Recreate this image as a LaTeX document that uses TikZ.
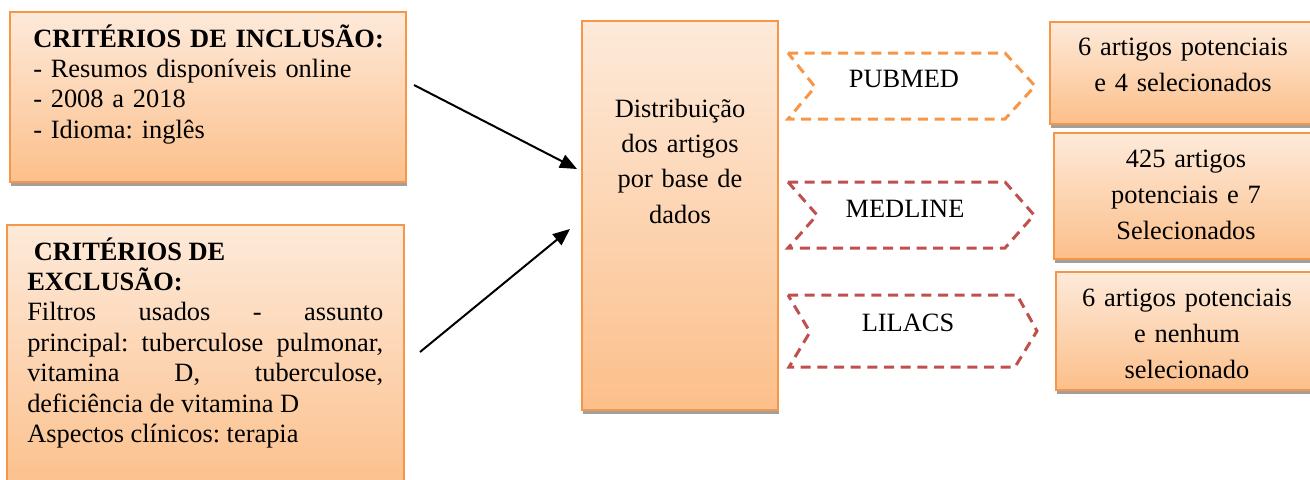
\documentclass[tikz,border=0pt]{standalone}
\usepackage{fontspec}
\setmainfont{Liberation Serif}
\usetikzlibrary{arrows.meta}
\usetikzlibrary{shadows}
\usetikzlibrary{fit}

\definecolor{boxline}{RGB}{247,150,70}
\definecolor{boxtop}{RGB}{253,234,218}
\definecolor{boxbot}{RGB}{252,191,138}
\definecolor{shadowgray}{RGB}{160,160,160}
\definecolor{dbred}{RGB}{192,80,77}

\tikzset{
	box/.style={draw=boxline, line width=1.5pt, top color=boxtop, bottom color=boxbot, inner sep=0pt,
		drop shadow={shadow xshift=0.75pt, shadow yshift=-3pt, fill=shadowgray, opacity=1}},
	txt/.style={inner sep=0pt, font=\fontsize{19.8pt}{22.8pt}\selectfont},
	chevron/.style={dash pattern=on 7.5pt off 5pt, line width=2.25pt, line join=miter},
	arr/.style={line width=1.5pt, -{Triangle[length=12.75pt, width=10.5pt]}}
}
\frenchspacing

\begin{document}
\begin{tikzpicture}[x=0.75pt, y=-0.75pt]
	\useasboundingbox (0,0) rectangle (1310,479);
	\clip (0,0) rectangle (1310,479);
	
	% caixas
	\node[box, fit={(10,12) (406,182)}] (incl) {};
	\node[box, fit={(7,225) (404,495)}] (excl) {};
	\node[box, fit={(582,21) (778,410)}] (dist) {};
	\node[box, fit={(1050,22) (1318,124)}] (resA) {};
	\node[box, fit={(1054,133) (1318,259)}] (resB) {};
	\node[box, fit={(1056,272) (1318,390)}] (resC) {};
	
	% setas das bases
	\draw[chevron, draw=boxline] (788,53) -- (1005,53) -- (1035,86) -- (1005,119) -- (788,119) -- (815,87) -- cycle;
	\draw[chevron, draw=dbred] (788,182) -- (1005,182) -- (1034,215) -- (1005,248) -- (788,248) -- (817,215) -- cycle;
	\draw[chevron, draw=dbred] (788,295) -- (1017,295) -- (1037,331) -- (1015,367) -- (789,367) -- (810,332) -- cycle;
	
	% textos
	\node[txt, anchor=base west, text width=300pt, align=left] (incltxt) at (33,47)
		{\textbf{CRITÉRIOS DE INCLUSÃO:}\\- Resumos disponíveis online\\- 2008 a 2018\\- Idioma: inglês};
	\node[txt, anchor=base west, text width=267pt, align=justify] (excltxt) at (27,260)
		{\hyphenpenalty=10000 \textbf{\ CRITÉRIOS DE}\\\textbf{EXCLUSÃO:}\\Filtros usados - assunto\linebreak
		principal: tuberculose pulmonar,\linebreak vitamina D, tuberculose,\linebreak
		deficiência de vitamina D\\Aspectos clínicos: terapia};
	\node[txt, anchor=base, text width=140pt, align=center, font=\fontsize{19.8pt}{26.5pt}\selectfont] (disttxt) at (680,117)
		{Distribuição\\dos artigos\\por base de\\dados};
	
	\node[txt, anchor=base] (pubmed) at (904,87) {PUBMED};
	\node[txt, anchor=base] (medline) at (905,217) {MEDLINE};
	\node[txt, anchor=base] (lilacs) at (908,331) {LILACS};
	
	\node[txt, anchor=base, text width=190pt, align=center, font=\fontsize{19.8pt}{27pt}\selectfont] (resAtxt) at (1183,55)
		{6 artigos potenciais\\e 4 selecionados};
	\node[txt, anchor=base, text width=190pt, align=center, font=\fontsize{19.8pt}{27pt}\selectfont] (resBtxt) at (1186,167)
		{425 artigos\\potenciais e 7\\Selecionados};
	\node[txt, anchor=base, text width=190pt, align=center, font=\fontsize{19.8pt}{27pt}\selectfont] (resCtxt) at (1187,306)
		{6 artigos potenciais\\e nenhum\\selecionado};
	
	% setas
	\draw[arr] ([shift={(7,-12)}]incl.east) -- ([shift={(-4,-46.5)}]dist.west);
	\draw[arr] ([shift={(15,-8)}]excl.east) -- ([shift={(-11,13.5)}]dist.west);
\end{tikzpicture}
\end{document}
